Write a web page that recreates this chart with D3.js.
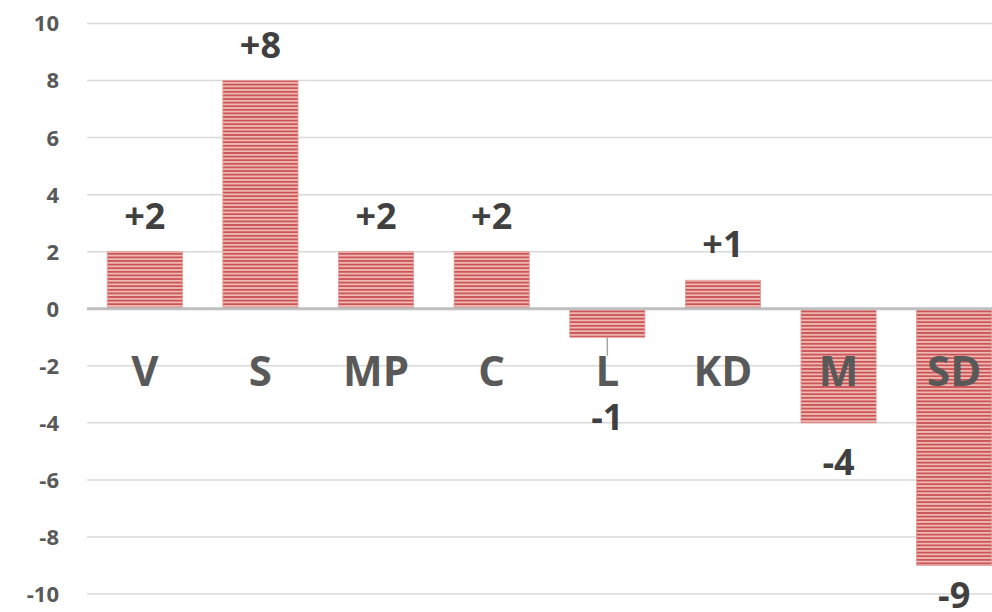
<!DOCTYPE html>
<html>
<head>
<meta charset="utf-8">
<script src="https://cdn.jsdelivr.net/npm/d3@7"></script>
<style>
  body { margin: 0; background: #fff; }
  text { font-family: "Open Sans", "Liberation Sans", sans-serif; font-weight: bold; }
</style>
</head>
<body>
<div id="chart"></div>
<script>
var parties = ["V", "S", "MP", "C", "L", "KD", "M", "SD"];
var change = [2, 8, 2, 2, -1, 1, -4, -9];
var yTicks = [-10, -8, -6, -4, -2, 0, 2, 4, 6, 8, 10];

var width = 992,
    height = 612;

var svg = d3.select("#chart").append("svg")
  .attr("width", width)
  .attr("height", height);

// striped fill, like the excel "narrow horizontal" pattern
var defs = svg.append("defs");
var pat = defs.append("pattern")
  .attr("id", "stripes")
  .attr("patternUnits", "userSpaceOnUse")
  .attr("width", 8)
  .attr("height", 3.6);
pat.append("rect").attr("width", 8).attr("height", 3.6).attr("fill", "#f3c4c2");
pat.append("rect").attr("y", 0.8).attr("width", 8).attr("height", 2).attr("fill", "#cb5553");

var x = d3.scaleBand()
  .domain(parties)
  .range([87, 1012])
  .paddingInner(0.35)
  .paddingOuter(0.175);

var y = d3.scaleLinear()
  .domain([-10, 10])
  .range([594, 23.5]);

// gridlines
svg.append("g")
  .selectAll("line")
  .data(yTicks.filter(function(d) { return d !== 0; }))
  .enter().append("line")
    .attr("x1", 87)
    .attr("x2", width)
    .attr("y1", function(d) { return y(d); })
    .attr("y2", function(d) { return y(d); })
    .attr("stroke", "#d9d9d9")
    .attr("stroke-width", 1.5);

// y tick labels
svg.append("g")
  .attr("font-size", 22)
  .attr("fill", "#595959")
  .attr("text-anchor", "end")
  .selectAll("text")
  .data(yTicks)
  .enter().append("text")
    .attr("x", 59)
    .attr("y", function(d) { return y(d); })
    .attr("dy", "0.36em")
    .text(function(d) { return d; });

var data = parties.map(function(p, i) { return {party: p, value: change[i]}; });

// bars
svg.append("g")
  .selectAll("rect")
  .data(data)
  .enter().append("rect")
    .attr("x", function(d) { return x(d.party); })
    .attr("y", function(d) { return y(Math.max(0, d.value)); })
    .attr("width", x.bandwidth())
    .attr("height", function(d) { return Math.abs(y(d.value) - y(0)); })
    .attr("fill", "url(#stripes)")
    .attr("stroke", "#e39a98")
    .attr("stroke-width", 0.8);

// zero line
svg.append("line")
  .attr("x1", 87)
  .attr("x2", width)
  .attr("y1", y(0))
  .attr("y2", y(0))
  .attr("stroke", "#bfbfbf")
  .attr("stroke-width", 3);

// category labels sit just under the zero line
var catBaseline = y(0) + 77;
svg.append("g")
  .attr("font-size", 42)
  .attr("fill", "#595959")
  .attr("text-anchor", "middle")
  .selectAll("text")
  .data(data)
  .enter().append("text")
    .attr("x", function(d) { return x(d.party) + x.bandwidth() / 2; })
    .attr("y", catBaseline)
    .text(function(d) { return d.party; });

// value labels; a negative label that would hit the category name is pushed
// below it and gets a leader line
function collides(d) {
  return d.value < 0 && y(d.value) + 52 - 26 < catBaseline + 4;
}

function labelY(d) {
  if (d.value >= 0) return y(d.value) - 23;
  if (collides(d)) return catBaseline + 44;
  return Math.min(y(d.value) + 52, height - 4);
}

svg.append("g")
  .selectAll("line")
  .data(data.filter(collides))
  .enter().append("line")
    .attr("x1", function(d) { return x(d.party) + x.bandwidth() / 2; })
    .attr("x2", function(d) { return x(d.party) + x.bandwidth() / 2; })
    .attr("y1", function(d) { return y(d.value); })
    .attr("y2", catBaseline - 30)
    .attr("stroke", "#a6a6a6")
    .attr("stroke-width", 1.5);

svg.append("g")
  .attr("font-size", 36)
  .attr("fill", "#404040")
  .attr("text-anchor", "middle")
  .selectAll("text")
  .data(data)
  .enter().append("text")
    .attr("x", function(d) { return x(d.party) + x.bandwidth() / 2; })
    .attr("y", labelY)
    .text(function(d) { return d.value > 0 ? "+" + d.value : d.value; });
</script>
</body>
</html>
